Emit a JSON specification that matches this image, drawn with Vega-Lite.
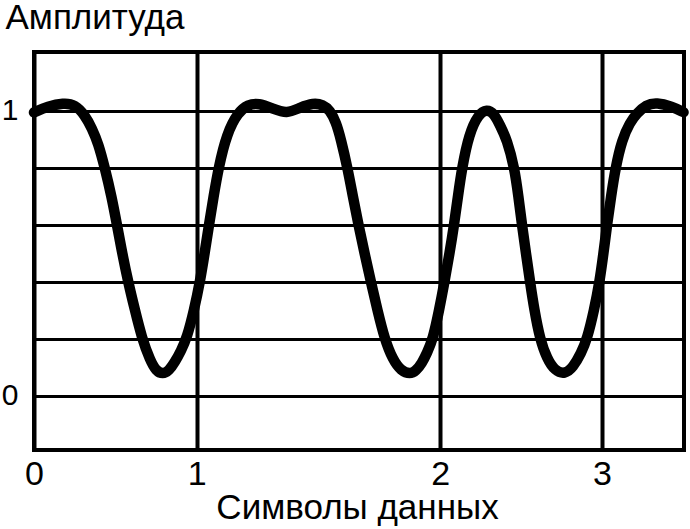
{
  "$schema": "https://vega.github.io/schema/vega-lite/v6.json",
  "autosize": {"type": "none"},
  "width": 650,
  "height": 398,
  "padding": {"left": 34, "top": 52, "right": 6, "bottom": 79},
  "background": "white",
  "config": {
    "font": "Liberation Sans",
    "view": {"stroke": "black", "strokeWidth": 4},
    "axis": {"labelColor": "black", "titleColor": "black", "titleFontWeight": "normal", "labelFont": "Liberation Sans", "titleFont": "Liberation Sans"}
  },
  "data": {
    "values": [
      {"s": 0, "a": 0.995}, {"s": 0.086, "a": 1.016}, {"s": 0.18, "a": 1.028}, {"s": 0.252, "a": 1.023},
      {"s": 0.313, "a": 0.985}, {"s": 0.356, "a": 0.939}, {"s": 0.395, "a": 0.886}, {"s": 0.436, "a": 0.798},
      {"s": 0.477, "a": 0.698}, {"s": 0.508, "a": 0.605}, {"s": 0.542, "a": 0.5}, {"s": 0.579, "a": 0.398},
      {"s": 0.62, "a": 0.301}, {"s": 0.662, "a": 0.204}, {"s": 0.713, "a": 0.125}, {"s": 0.749, "a": 0.088},
      {"s": 0.791, "a": 0.076}, {"s": 0.829, "a": 0.088}, {"s": 0.866, "a": 0.119}, {"s": 0.903, "a": 0.158},
      {"s": 0.94, "a": 0.205}, {"s": 0.983, "a": 0.3}, {"s": 1.013, "a": 0.4}, {"s": 1.032, "a": 0.5},
      {"s": 1.05, "a": 0.6}, {"s": 1.069, "a": 0.7}, {"s": 1.089, "a": 0.8}, {"s": 1.123, "a": 0.921},
      {"s": 1.17, "a": 0.996}, {"s": 1.21, "a": 1.022}, {"s": 1.253, "a": 1.028}, {"s": 1.314, "a": 1.008},
      {"s": 1.369, "a": 0.99}, {"s": 1.424, "a": 1.012}, {"s": 1.478, "a": 1.028}, {"s": 1.518, "a": 1.022},
      {"s": 1.547, "a": 1.002}, {"s": 1.572, "a": 0.96}, {"s": 1.592, "a": 0.9}, {"s": 1.619, "a": 0.8},
      {"s": 1.641, "a": 0.7}, {"s": 1.664, "a": 0.6}, {"s": 1.689, "a": 0.5}, {"s": 1.715, "a": 0.4},
      {"s": 1.742, "a": 0.3}, {"s": 1.771, "a": 0.2}, {"s": 1.806, "a": 0.125}, {"s": 1.839, "a": 0.088},
      {"s": 1.876, "a": 0.076}, {"s": 1.9, "a": 0.088}, {"s": 1.924, "a": 0.114}, {"s": 1.945, "a": 0.15},
      {"s": 1.97, "a": 0.2}, {"s": 1.995, "a": 0.3}, {"s": 2.026, "a": 0.4}, {"s": 2.057, "a": 0.5},
      {"s": 2.085, "a": 0.6}, {"s": 2.109, "a": 0.7}, {"s": 2.134, "a": 0.8}, {"s": 2.178, "a": 0.92},
      {"s": 2.235, "a": 0.988}, {"s": 2.287, "a": 1.006}, {"s": 2.332, "a": 0.992}, {"s": 2.369, "a": 0.95},
      {"s": 2.412, "a": 0.9}, {"s": 2.459, "a": 0.8}, {"s": 2.483, "a": 0.7}, {"s": 2.505, "a": 0.6},
      {"s": 2.53, "a": 0.5}, {"s": 2.555, "a": 0.4}, {"s": 2.582, "a": 0.3}, {"s": 2.616, "a": 0.2},
      {"s": 2.66, "a": 0.13}, {"s": 2.709, "a": 0.088}, {"s": 2.771, "a": 0.076}, {"s": 2.821, "a": 0.1},
      {"s": 2.871, "a": 0.15}, {"s": 2.908, "a": 0.2}, {"s": 2.951, "a": 0.3}, {"s": 2.985, "a": 0.4},
      {"s": 3.009, "a": 0.5}, {"s": 3.031, "a": 0.6}, {"s": 3.056, "a": 0.7}, {"s": 3.083, "a": 0.8},
      {"s": 3.124, "a": 0.9}, {"s": 3.173, "a": 0.96}, {"s": 3.215, "a": 0.991}, {"s": 3.272, "a": 1.022},
      {"s": 3.338, "a": 1.03}, {"s": 3.431, "a": 1.016}, {"s": 3.504, "a": 0.996}
    ]
  },
  "mark": {"type": "line", "color": "black", "strokeWidth": 10.5, "interpolate": "basis", "strokeCap": "round", "strokeJoin": "round"},
  "encoding": {
    "x": {
      "field": "s", "type": "quantitative",
      "scale": {"domain": [0, 1, 2, 3, 3.507], "range": [0, 162.8, 406.3, 568, 650], "nice": false, "zero": false},
      "axis": {
        "values": [0, 1, 2, 3], "labelExpr": "datum.value == 0 ? '0' : datum.value == 1 ? '1' : datum.value == 2 ? '2' : '3'",
        "labelFlush": false, "labelOverlap": false,
        "grid": true, "gridColor": "black", "gridWidth": 4, "gridOpacity": 1,
        "ticks": false, "tickSize": 0, "domain": false, "labelFontSize": 34, "labelPadding": 7,
        "title": "Символы данных", "titleFontSize": 35, "titleBaseline": "alphabetic", "titleAlign": "center",
        "titleX": 323, "titleY": 68
      }
    },
    "y": {
      "field": "a", "type": "quantitative",
      "scale": {"domain": [-0.19, 1.207], "nice": false, "zero": false},
      "axis": {
        "values": [0, 0.2, 0.4, 0.6, 0.8, 1],
        "labelExpr": "datum.value == 0 ? '0' : datum.value == 1 ? '1' : ''",
        "labelOverlap": false,
        "grid": true, "gridColor": "black", "gridWidth": 3, "gridOpacity": 1,
        "ticks": false, "tickSize": 0, "domain": false, "labelFontSize": 30, "labelPadding": 16,
        "title": "Амплитуда", "titleFontSize": 35, "titleAngle": 0, "titleAlign": "left", "titleBaseline": "alphabetic",
        "titleX": -29, "titleY": -24
      }
    }
  }
}
